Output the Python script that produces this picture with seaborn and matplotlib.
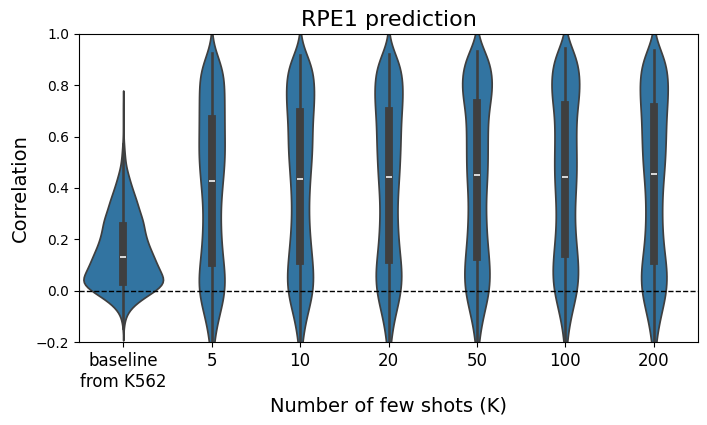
import numpy as np
import pandas as pd
import matplotlib
matplotlib.use("Agg")
import matplotlib.pyplot as plt
import seaborn as sns

categories = ["baseline\nfrom K562", "5", "10", "20", "50", "100", "200"]
bin_width = 0.02

# Each group: centre of its lowest histogram bin and the counts per 0.02-wide bin
# (estimated from the violin widths and box/whisker positions in the reference).
baseline_start = -0.147
baseline_counts = [1, 2, 4, 8, 16, 28, 44, 62, 80,
                   92,
                   85, 79, 74, 69,
                   65,
                   60, 55, 51, 48, 45,
                   44,
                   42, 38, 34, 31, 28, 24, 20, 17, 13, 11, 7, 5, 4, 3, 2, 2,
                   0, 1, 0, 1, 0, 1, 0, 1]

k5_start = -0.313
k5_counts = [1, 1, 2, 2, 3, 4, 5, 6, 8, 10, 12, 15, 18, 21, 24, 26, 27, 27, 27, 26, 25,
             24,
             22, 21, 20, 19, 19, 18, 18, 18, 17, 17, 18, 18, 19, 20, 21,
             22,
             23, 24, 25, 26, 26, 26, 26, 26, 25, 25, 25,
             26,
             25, 25, 25, 25, 25, 25, 25, 25, 24, 23, 20, 14, 8]

k10_start = -0.303
k10_counts = [1, 1, 2, 2, 3, 4, 5, 6, 8, 10, 12, 15, 18, 21, 24, 26, 27, 27, 27, 26, 25,
              24,
              23, 22, 21, 20, 19, 18, 18, 17, 17, 17, 17, 17, 18, 18, 19,
              20,
              20, 21, 22, 23, 24, 24, 24, 24, 24, 24, 24, 24,
              26,
              28, 28, 28, 28, 28, 28, 27, 26, 25, 22, 20]

k20_start = -0.299
k20_counts = [1, 1, 2, 3, 3, 4, 5, 7, 8, 10, 12, 15, 18, 21, 23, 25, 26, 27, 27, 26, 25,
              24,
              22, 21, 20, 19, 19, 18, 18, 17, 17, 17, 17, 18, 18, 19, 20,
              21,
              21, 22, 22, 23, 23, 23, 24, 24, 24, 24, 24, 24,
              26,
              28, 28, 28, 28, 28, 28, 27, 26, 24, 22, 19]

k50_start = -0.288
k50_counts = [1, 1, 2, 2, 3, 4, 5, 7, 9, 11, 13, 16, 19, 22, 24, 25, 26, 26, 26, 25, 24,
              24,
              22, 21, 20, 19, 19, 18, 18, 18, 17, 17, 17, 18, 18, 19, 20,
              21,
              21, 21, 21, 21, 21, 21, 21, 21, 21, 21, 21, 22, 22,
              24,
              31, 31, 31, 31, 30, 29, 28, 27, 25, 23]

k100_start = -0.276
k100_counts = [1, 1, 2, 2, 3, 4, 5, 7, 9, 11, 13, 16, 19, 22, 24, 25, 26, 26, 26, 25, 24,
               24,
               22, 21, 20, 19, 19, 18, 18, 18, 18, 19, 19, 20, 21, 21,
               22,
               22, 22, 22, 22, 21, 21, 21, 21, 21, 21, 21, 21, 21,
               24,
               28, 28, 28, 28, 28, 28, 27, 25, 24, 22, 18]

k200_start = -0.304
k200_counts = [1, 1, 2, 2, 3, 4, 5, 7, 8, 10, 12, 15, 18, 21, 23, 25, 26, 27, 27, 26, 25,
               24,
               21, 20, 19, 18, 17, 17, 16, 16, 16, 16, 16, 16, 17, 17, 18, 18,
               21,
               21, 22, 22, 23, 23, 23, 24, 24, 24, 24, 24, 24,
               26,
               28, 28, 28, 28, 28, 28, 27, 26, 24, 22, 20]

groups = [
    (categories[0], baseline_start, baseline_counts),
    (categories[1], k5_start, k5_counts),
    (categories[2], k10_start, k10_counts),
    (categories[3], k20_start, k20_counts),
    (categories[4], k50_start, k50_counts),
    (categories[5], k100_start, k100_counts),
    (categories[6], k200_start, k200_counts),
]

frames = []
for name, start, counts in groups:
    centres = np.round(start + bin_width * np.arange(len(counts)), 3)
    vals = np.repeat(centres, counts)
    frames.append(pd.DataFrame({"group": name, "Correlation": vals}))
df = pd.concat(frames, ignore_index=True)

fig = plt.figure(figsize=(7.07, 4.25), dpi=100)
ax = fig.add_axes([79 / 707, 1 - 342 / 425, (698 - 79) / 707, (342 - 34) / 425])

sns.violinplot(data=df, x="group", y="Correlation", order=categories,
               color="#1f77b4", width=0.9, bw_adjust=0.7, ax=ax)
ax.axhline(0, color="black", linestyle="--", linewidth=1)

ax.set_ylim(-0.2, 1.0)
ax.set_title("RPE1 prediction", fontsize=16)
ax.set_xlabel("Number of few shots (K)", fontsize=14)
ax.set_ylabel("Correlation", fontsize=14)
ax.tick_params(axis="x", labelsize=12)
ax.tick_params(axis="y", labelsize=10)

fig.savefig("out.png", dpi=100)
